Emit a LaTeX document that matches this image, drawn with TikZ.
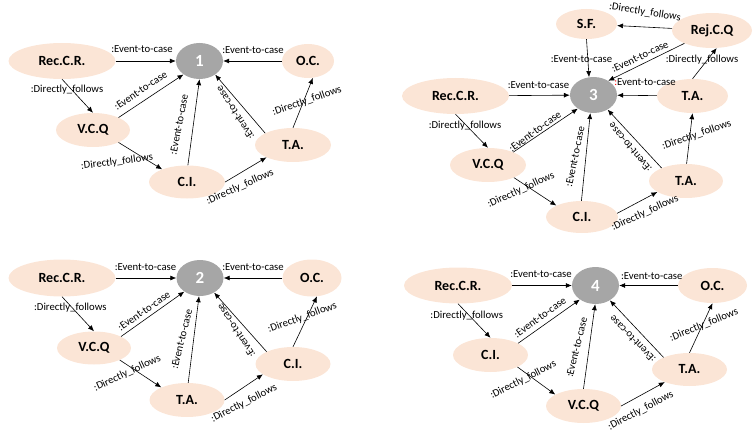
\documentclass[tikz,border=0pt]{standalone}
\usepackage{fontspec}
\setmainfont{Carlito}
\usetikzlibrary{shapes.geometric,arrows.meta}
\definecolor{peach}{HTML}{FBE5D6}
\definecolor{hubgray}{HTML}{A6A6A6}
\begin{document}
\begin{tikzpicture}[x=1pt,y=-1pt,
 act/.style={ellipse, fill=peach, inner sep=0pt, font=\bfseries\fontsize{14}{16}\selectfont},
 sz/.style 2 args={minimum width=#1pt, minimum height=#2pt},
 hub/.style={ellipse, fill=hubgray, inner sep=0pt, text=white, font=\bfseries\fontsize{17}{18}\selectfont, minimum width=47pt, minimum height=36pt},
 lbl/.style={inner sep=0pt, font=\fontsize{10.7}{12}\selectfont},
 arr/.style={-{Latex[length=6pt,width=5pt]}, line width=0.6pt},
 ]
\useasboundingbox (0,0) rectangle (753,436);

% ---------------- Diagram 1 ----------------
\node[act, sz={107}{36}] (a1rec) at (62,61) {Rec.C.R.};
\node[hub] (a1hub) at (199.5,61) {1};
\node[act, sz={52}{34}] (a1oc) at (308,61) {O.C.};
\node[act, sz={74}{34}] (a1vcq) at (93,130) {V.C.Q};
\node[act, sz={76}{33}] (a1ci) at (187,182) {C.I.};
\node[act, sz={76}{34}] (a1ta) at (293,145) {T.A.};

\draw[arr] (a1rec) -- (a1hub);
\draw[arr] (a1oc) -- (a1hub);
\draw[arr] (a1rec.south) -- (a1vcq.north);
\draw[arr] (a1vcq.26) -- (a1hub.220);
\draw[arr] (a1vcq.-26) -- (a1ci.153);
\draw[arr] (a1ci.87) -- (a1hub.-90);
\draw[arr] (a1ci.east) -- (a1ta.205);
\draw[arr] (a1ta.157) -- (a1hub.-41);
\draw[arr] (a1ta.north) -- (a1oc.-74);

\node[lbl] (a1l1) at (142,49.5) {:Event-to-case};
\node[lbl] (a1l2) at (253,50.5) {:Event-to-case};
\node[lbl] (a1l3) at (67,90) {:Directly\_follows};
\node[lbl, rotate=34] (a1l4) at (140.7,90.5) {:Event-to-case};
\node[lbl, rotate=7] (a1l5) at (117,162) {:Directly\_follows};
\node[lbl, rotate=79] (a1l6) at (179,124.5) {:Event-to-case};
\node[lbl, rotate=24] (a1l7) at (240,187) {:Directly\_follows};
\node[lbl, rotate=123] (a1l8) at (235,113) {:Event-to-case};
\node[lbl, rotate=19] (a1l9) at (307,101) {:Directly\_follows};

% ---------------- Diagram 2 ----------------
\node[act, sz={107}{37}] (b2rec) at (62,278) {Rec.C.R.};
\node[hub] (b2hub) at (200,278) {2};
\node[act, sz={59}{37}] (b2oc) at (312,278) {O.C.};
\node[act, sz={74}{33}] (b2vcq) at (94,348) {V.C.Q};
\node[act, sz={75}{34}] (b2ta) at (187,400) {T.A.};
\node[act, sz={75}{34}] (b2ci) at (293,364) {C.I.};

\draw[arr] (b2rec) -- (b2hub);
\draw[arr] (b2oc) -- (b2hub);
\draw[arr] (b2rec.south) -- (b2vcq.north);
\draw[arr] (b2vcq.23) -- (b2hub.221);
\draw[arr] (b2vcq.-25) -- (b2ta.154);
\draw[arr] (b2ta.86) -- (b2hub.-93);
\draw[arr] (b2ta.east) -- (b2ci.199);
\draw[arr] (b2ci.155) -- (b2hub.-46);
\draw[arr] (b2ci.north) -- (b2oc.-75);

\node[lbl] (b2l1) at (145.5,266.7) {:Event-to-case};
\node[lbl] (b2l2) at (253,266.7) {:Event-to-case};
\node[lbl] (b2l3) at (70.3,308) {:Directly\_follows};
\node[lbl, rotate=35] (b2l4) at (144,311) {:Event-to-case};
\node[lbl, rotate=25] (b2l5) at (127.3,373.3) {:Directly\_follows};
\node[lbl, rotate=76] (b2l6) at (181.7,339) {:Event-to-case};
\node[lbl, rotate=27] (b2l7) at (244,403.3) {:Directly\_follows};
\node[lbl, rotate=123] (b2l8) at (236,330.5) {:Event-to-case};
\node[lbl, rotate=20] (b2l9) at (302.3,317.7) {:Directly\_follows};

% ---------------- Diagram 3 ----------------
\node[act, sz={61}{30}] (c3sf) at (586.5,24) {S.F.};
\node[act, sz={80}{35}] (c3rej) at (712,30.5) {Rej.C.Q};
\node[hub] (c3hub) at (593.5,95) {3};
\node[act, sz={107}{36}] (c3rec) at (455.5,96) {Rec.C.R.};
\node[act, sz={71}{34}] (c3tau) at (692.5,96) {T.A.};
\node[act, sz={76}{34}] (c3vcq) at (488,165) {V.C.Q};
\node[act, sz={72}{32}] (c3ci) at (582,217) {C.I.};
\node[act, sz={74}{34}] (c3tal) at (686,181) {T.A.};

\draw[arr] (c3rej) -- (c3sf);
\draw[arr] (c3sf.south) -- (c3hub.104);
\draw[arr] (c3rej.205) -- (c3hub.44);
\draw[arr] (c3tau.north) -- (c3rej.-75);
\draw[arr] (c3rec) -- (c3hub);
\draw[arr] (c3tau) -- (c3hub);
\draw[arr] (c3rec.south) -- (c3vcq.north);
\draw[arr] (c3vcq.27) -- (c3hub.221);
\draw[arr] (c3vcq.-26) -- (c3ci.156);
\draw[arr] (c3ci.92) -- (c3hub.-100);
\draw[arr] (c3ci.6) -- (c3tal.201);
\draw[arr] (c3tal.152) -- (c3hub.-46);
\draw[arr] (c3tal.88) -- (c3tau.south);

\node[lbl, rotate=-9] (c3l1) at (645,12.3) {:Directly\_follows};
\node[lbl] (c3l2) at (581.5,59) {:Event-to-case};
\node[lbl, rotate=25] (c3l3) at (640,56.7) {:Event-to-case};
\node[lbl] (c3l4) at (702,60) {:Directly\_follows};
\node[lbl] (c3l5) at (538.5,85.5) {:Event-to-case};
\node[lbl] (c3l6) at (645,82) {{\color{red}:}Event-to-case};
\node[lbl] (c3l7) at (465,126) {:Directly\_follows};
\node[lbl, rotate=36] (c3l8) at (535,131.7) {:Event-to-case};
\node[lbl, rotate=25] (c3l9) at (521,190) {:Directly\_follows};
\node[lbl, rotate=78] (c3l10) at (575,156.7) {:Event-to-case};
\node[lbl, rotate=25] (c3l11) at (645,213) {:Directly\_follows};
\node[lbl, rotate=130] (c3l12) at (630,147.5) {:Event-to-case};
\node[lbl, rotate=19] (c3l13) at (696.7,135) {:Directly\_follows};

% ---------------- Diagram 4 ----------------
\node[act, sz={108}{36}] (d4rec) at (458,285.5) {Rec.C.R.};
\node[hub, minimum height=37pt] (d4hub) at (595.5,285.5) {4};
\node[act, sz={69}{35}] (d4oc) at (712.5,285.5) {O.C.};
\node[act, sz={75}{34}] (d4ci) at (490.5,355) {C.I.};
\node[act, sz={75}{34}] (d4vcq) at (583.5,406) {V.C.Q};
\node[act, sz={75}{33}] (d4ta) at (689.5,369.5) {T.A.};

\draw[arr] (d4rec) -- (d4hub);
\draw[arr] (d4oc) -- (d4hub);
\draw[arr] (d4rec.south) -- (d4ci.north);
\draw[arr] (d4ci.23) -- (d4hub.222);
\draw[arr] (d4ci.-24) -- (d4vcq.158);
\draw[arr] (d4vcq.north) -- (d4hub.-91);
\draw[arr] (d4vcq.east) -- (d4ta.207);
\draw[arr] (d4ta.155) -- (d4hub.-46);
\draw[arr] (d4ta.north) -- (d4oc.south);

\node[lbl] (d4l1) at (541,273.7) {:Event-to-case};
\node[lbl] (d4l2) at (651.7,275.7) {:Event-to-case};
\node[lbl] (d4l3) at (466.7,315.7) {:Directly\_follows};
\node[lbl, rotate=36] (d4l4) at (540,317.3) {:Event-to-case};
\node[lbl, rotate=27] (d4l5) at (523.3,380) {:Directly\_follows};
\node[lbl, rotate=76] (d4l6) at (576.7,347.3) {:Event-to-case};
\node[lbl, rotate=28] (d4l7) at (640.7,410.7) {:Directly\_follows};
\node[lbl, rotate=134] (d4l8) at (632.5,339) {:Event-to-case};
\node[lbl, rotate=22] (d4l9) at (704,325) {:Directly\_follows};
\end{tikzpicture}
\end{document}
